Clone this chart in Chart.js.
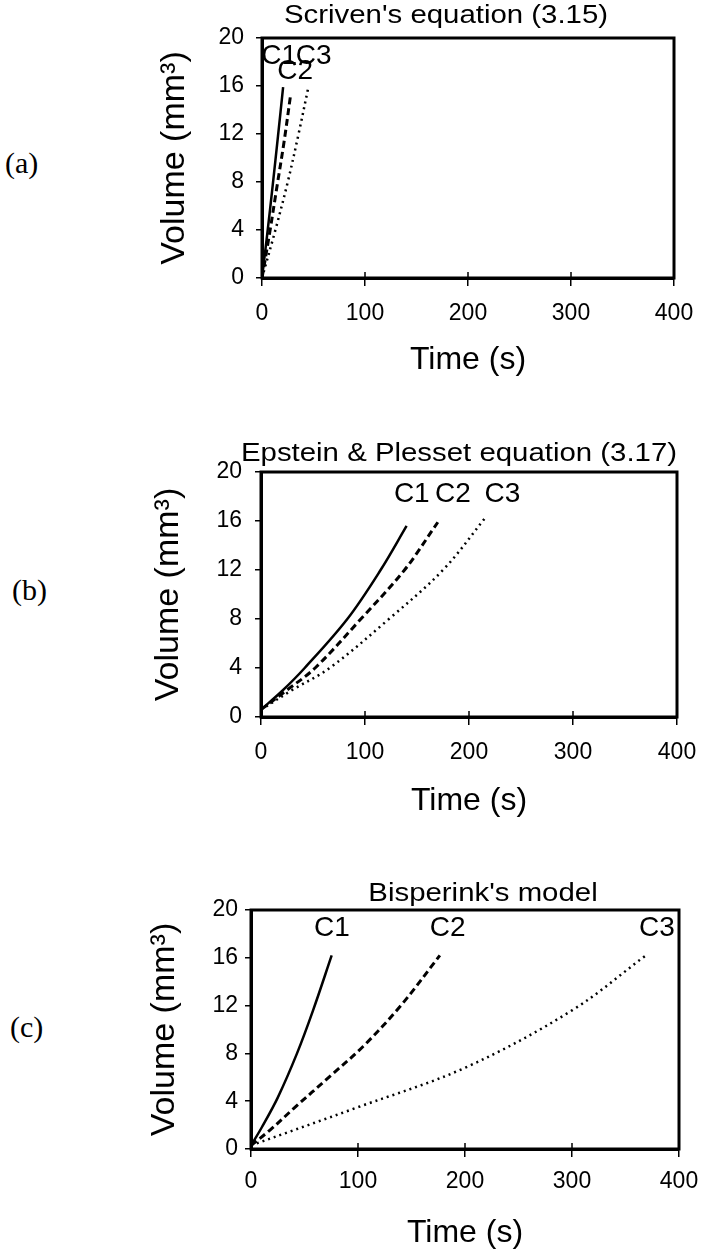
<!DOCTYPE html>
<html>
<head>
<meta charset="utf-8">
<script src="https://cdn.jsdelivr.net/npm/chart.js@4"></script>
<style>
  html, body { margin: 0; padding: 0; background: #fff; overflow: hidden; }
  body { width: 702px; height: 1252px; position: relative; }
  canvas { position: absolute; left: 130px; }
  .tag { position: absolute; font: 30px "Liberation Serif", serif; line-height: 30px; color: #000; }
</style>
</head>
<body>
<div class="tag" style="left:5px; top:148px;">(a)</div>
<div class="tag" style="left:12px; top:575px;">(b)</div>
<div class="tag" style="left:10px; top:1012px;">(c)</div>
<canvas id="chartA" width="572" height="400" style="top:0px"></canvas>
<canvas id="chartB" width="572" height="420" style="top:420px"></canvas>
<canvas id="chartC" width="572" height="392" style="top:860px"></canvas>
<script>
// axis ticks
const timeTicks = [0, 100, 200, 300, 400];
const volumeTicks = [0, 4, 8, 12, 16, 20];

// (a) Scriven's equation (3.15)
const scrivenC1Time = [0, 5, 10.5, 15.5, 20.5];
const scrivenC1Vol = [0, 3.6, 7.8, 11.8, 15.9];
const scrivenC2Time = [0, 7.5, 14.5, 21.5, 28];
const scrivenC2Vol = [0, 3.8, 7.6, 11.4, 15.4];
const scrivenC3Time = [0, 13, 25, 35.5, 45];
const scrivenC3Vol = [0, 4, 8, 12, 15.9];

// (b) Epstein & Plesset equation (3.17)
const epsteinC1Time = [0, 20, 42, 83, 115, 140];
const epsteinC1Vol = [0.6, 2.1, 4, 8, 12, 15.6];
const epsteinC2Time = [0, 25, 52, 96, 138, 170];
const epsteinC2Vol = [0.6, 2.2, 4, 8, 12, 15.9];
const epsteinC3Time = [0, 30, 66, 123, 175, 216];
const epsteinC3Vol = [0.6, 2.2, 4, 8, 12, 16.3];

// (c) Bisperink's model
const bisperinkC1Time = [0, 10, 25, 43, 58, 75.4];
const bisperinkC1Vol = [0.3, 1.8, 4.3, 8, 11.6, 16.2];
const bisperinkC2Time = [0, 18, 40, 74, 105, 140, 176.5];
const bisperinkC2Vol = [0.3, 1.6, 3.4, 6.1, 8.6, 12, 16.2];
const bisperinkC3Time = [0, 100, 200, 300, 369];
const bisperinkC3Vol = [0.3, 3.5, 6.8, 11.6, 16.2];

const curveNames = ['C1', 'C2', 'C3'];

Chart.defaults.font.family = '"Liberation Sans", Arial, sans-serif';
Chart.defaults.color = '#000';

function toPoints(times, vols) {
    return times.map((t, i) => ({ x: t, y: vols[i] }));
}

// frame, inner ticks, panel title and curve names
const annotate = {
    id: 'annotate',
    afterDraw(chart, args, opts) {
        const { ctx, chartArea: a, scales } = chart;
        ctx.save();
        ctx.strokeStyle = '#000';
        ctx.lineWidth = 3;
        ctx.strokeRect(a.left, a.top, a.right - a.left, a.bottom - a.top);

        ctx.lineWidth = 1.5;
        ctx.beginPath();
        timeTicks.forEach(v => {
            const px = scales.x.getPixelForValue(v);
            ctx.moveTo(px, a.bottom);
            ctx.lineTo(px, a.bottom - 6);
        });
        ctx.stroke();

        ctx.fillStyle = '#000';
        ctx.save();
        ctx.font = '26px "Liberation Sans", Arial, sans-serif';
        ctx.textAlign = 'center';
        ctx.textBaseline = 'alphabetic';
        ctx.translate((a.left + a.right) / 2 + opts.titleShift, opts.titleBase);
        ctx.scale(1.13, 1);
        ctx.fillText(opts.title, 0, 0);
        ctx.restore();

        ctx.font = '28px "Liberation Sans", Arial, sans-serif';
        ctx.textAlign = 'center';
        ctx.textBaseline = 'middle';
        opts.labels.forEach(l => {
            ctx.fillText(l.text, scales.x.getPixelForValue(l.t), scales.y.getPixelForValue(l.v));
        });
        ctx.restore();
    }
};

function makePanel(id, series, cfg) {
    const styles = [
        { borderDash: [], borderWidth: 2.5 },
        { borderDash: [7, 4], borderWidth: 3 },
        { borderDash: [2, 4], borderWidth: 2.5 }
    ];
    new Chart(document.getElementById(id), {
        type: 'scatter',
        data: {
            datasets: series.map((s, i) => ({
                label: curveNames[i],
                data: toPoints(s[0], s[1]),
                showLine: true,
                borderColor: '#000',
                borderWidth: styles[i].borderWidth,
                borderDash: styles[i].borderDash,
                pointRadius: 0,
                tension: 0.35
            }))
        },
        options: {
            responsive: false,
            animation: false,
            layout: { padding: cfg.padding },
            plugins: {
                legend: { display: false },
                tooltip: { enabled: false },
                annotate: cfg.annotate
            },
            scales: {
                x: {
                    type: 'linear',
                    min: 0,
                    max: 400,
                    afterBuildTicks: s => { s.ticks = timeTicks.map(v => ({ value: v })); },
                    afterFit: s => { s.height = cfg.xHeight; s.paddingLeft = 0; s.paddingRight = 0; },
                    grid: { drawOnChartArea: false, color: '#000', lineWidth: 1.5, tickLength: 8 },
                    border: { color: '#000', width: 3 },
                    ticks: { font: { size: 23 }, padding: cfg.xTickPad, maxRotation: 0 },
                    title: {
                        display: true,
                        text: 'Time (s)',
                        font: { size: 32 },
                        padding: { top: 0, bottom: cfg.xTitlePad }
                    }
                },
                y: {
                    type: 'linear',
                    min: 0,
                    max: 20,
                    afterBuildTicks: s => { s.ticks = volumeTicks.map(v => ({ value: v })); },
                    afterFit: s => { s.width = cfg.yWidth; s.paddingTop = 0; s.paddingBottom = 0; },
                    grid: { drawOnChartArea: false, color: '#000', lineWidth: 1.5, tickLength: 6 },
                    border: { color: '#000', width: 3 },
                    ticks: { font: { size: 23 }, padding: cfg.yTickPad },
                    title: {
                        display: true,
                        text: 'Volume (mm³)',
                        font: { size: 34 },
                        padding: { top: cfg.yTitlePad, bottom: 0 }
                    }
                }
            }
        },
        plugins: [annotate]
    });
}

makePanel('chartA', [
    [scrivenC1Time, scrivenC1Vol],
    [scrivenC2Time, scrivenC2Vol],
    [scrivenC3Time, scrivenC3Vol]
], {
    padding: { left: 0, right: 28, top: 38, bottom: 12 },
    yWidth: 132, xHeight: 110,
    xTickPad: 14, yTickPad: 12, xTitlePad: 9, yTitlePad: 24,
    annotate: {
        title: "Scriven's equation (3.15)", titleShift: -22, titleBase: 23,
        labels: [
            { text: 'C1', t: 16.7, v: 18.5 },
            { text: 'C3', t: 50.2, v: 18.5 },
            { text: 'C2', t: 32.1, v: 17.2 }
        ]
    }
});

makePanel('chartB', [
    [epsteinC1Time, epsteinC1Vol],
    [epsteinC2Time, epsteinC2Vol],
    [epsteinC3Time, epsteinC3Vol]
], {
    padding: { left: 0, right: 25, top: 52, bottom: 11 },
    yWidth: 131, xHeight: 112,
    xTickPad: 14, yTickPad: 13, xTitlePad: 9, yTitlePad: 18,
    annotate: {
        title: 'Epstein & Plesset equation (3.17)', titleShift: -10, titleBase: 41,
        labels: [
            { text: 'C1', t: 145, v: 18.2 },
            { text: 'C2', t: 184.6, v: 18.2 },
            { text: 'C3', t: 232.2, v: 18.2 }
        ]
    }
});

makePanel('chartC', [
    [bisperinkC1Time, bisperinkC1Vol],
    [bisperinkC2Time, bisperinkC2Vol],
    [bisperinkC3Time, bisperinkC3Vol]
], {
    padding: { left: 0, right: 23, top: 50, bottom: 0 },
    yWidth: 121, xHeight: 103,
    xTickPad: 11, yTickPad: 7, xTitlePad: 0, yTitlePad: 14,
    annotate: {
        title: "Bisperink's model", titleShift: 18, titleBase: 41,
        labels: [
            { text: 'C1', t: 75.6, v: 18.5 },
            { text: 'C2', t: 183.7, v: 18.5 },
            { text: 'C3', t: 379.3, v: 18.5 }
        ]
    }
});
</script>
</body>
</html>
